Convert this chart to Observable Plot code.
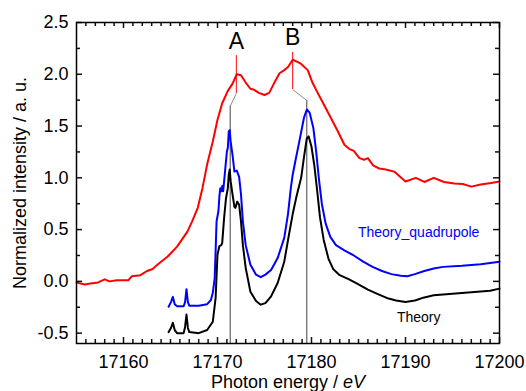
<!DOCTYPE html>
<html>
<head>
<meta charset="utf-8">
<script src="https://cdn.jsdelivr.net/npm/d3@7"></script>
<script src="https://cdn.jsdelivr.net/npm/@observablehq/plot@0.6"></script>
<style>
  html, body { margin: 0; padding: 0; background: #fff; }
  #chart { width: 526px; height: 391px; }
</style>
</head>
<body>
<div id="chart"></div>
<script>
// ---- data ----
const expEnergy = [17155.0,17155.9,17156.5,17157.3,17158.0,17158.5,17159.3,17160.5,17160.9,17161.8,17162.5,17163.1,17163.6,17164.7,17165.7,17166.8,17167.3,17167.9,17168.4,17168.9,17169.5,17170.0,17170.5,17171.1,17171.6,17172.05,17172.5,17173.0,17173.5,17173.9,17174.4,17175.0,17175.5,17176.0,17176.6,17177.1,17177.5,17178.0,17178.5,17178.9,17179.6,17180.1,17180.6,17181.3,17182.05,17182.8,17183.5,17184.0,17184.5,17185.1,17185.6,17186.0,17186.55,17187.2,17187.9,17188.8,17190.0,17191.1,17192.0,17193.0,17194.1,17195.2,17196.1,17197.0,17198.0,17199.1,17200.0];
const expIntensity = [-0.01,-0.03,-0.02,-0.01,0.02,0.0,0.01,0.01,0.05,0.06,0.10,0.12,0.16,0.24,0.335,0.48,0.58,0.71,0.90,1.13,1.35,1.56,1.72,1.84,1.91,2.0,1.99,1.92,1.86,1.85,1.82,1.80,1.82,1.91,2.01,2.04,2.07,2.14,2.12,2.10,2.04,1.92,1.83,1.71,1.58,1.45,1.32,1.28,1.26,1.19,1.175,1.19,1.12,1.09,1.08,1.06,0.965,1.0,0.96,1.0,0.96,0.945,0.94,0.915,0.935,0.95,0.965];

const quadEnergy = [17164.8,17165.05,17165.25,17165.45,17165.7,17166.4,17166.55,17166.7,17166.85,17167.0,17168.0,17168.9,17169.3,17169.5,17169.7,17169.8,17169.9,17170.1,17170.2,17170.3,17170.4,17170.5,17170.6,17170.8,17171.0,17171.1,17171.2,17171.3,17171.4,17171.6,17171.8,17172.05,17172.3,17172.5,17172.7,17173.0,17173.5,17174.1,17174.6,17175.1,17175.7,17176.4,17177.1,17177.5,17177.8,17178.0,17178.3,17178.7,17179.2,17179.5,17179.8,17180.2,17180.5,17180.8,17181.1,17181.5,17182.0,17182.6,17183.5,17184.5,17185.5,17186.5,17187.5,17188.5,17189.5,17190.2,17191.0,17192.0,17193.0,17194.0,17196.0,17198.0,17200.0];
const quadIntensity = [-0.245,-0.20,-0.15,-0.22,-0.24,-0.24,-0.20,-0.075,-0.20,-0.235,-0.235,-0.22,-0.18,-0.11,0.03,0.29,0.58,0.68,0.82,0.90,0.87,0.92,0.87,1.06,1.255,1.29,1.45,1.46,1.35,1.22,1.06,1.07,1.01,0.84,0.58,0.35,0.16,0.065,0.04,0.065,0.11,0.225,0.42,0.65,0.90,1.03,1.17,1.35,1.58,1.66,1.63,1.48,1.25,0.98,0.75,0.56,0.43,0.35,0.30,0.25,0.19,0.14,0.10,0.07,0.055,0.05,0.07,0.10,0.125,0.14,0.15,0.165,0.19];

const theoEnergy = [17164.8,17165.05,17165.25,17165.45,17165.7,17166.4,17166.55,17166.7,17166.85,17167.0,17168.0,17168.9,17169.5,17169.8,17170.0,17170.2,17170.4,17170.5,17170.7,17170.9,17171.1,17171.2,17171.3,17171.4,17171.6,17171.8,17171.9,17172.1,17172.3,17172.5,17172.7,17173.0,17173.5,17174.1,17174.6,17175.1,17175.7,17176.4,17177.1,17177.6,17178.0,17178.4,17178.9,17179.2,17179.5,17179.7,17180.0,17180.3,17180.6,17180.9,17181.3,17181.8,17182.3,17183.0,17184.0,17185.0,17186.0,17187.0,17188.0,17189.0,17190.0,17191.0,17192.0,17193.0,17195.0,17197.0,17199.0,17200.0];
const theoIntensity = [-0.49,-0.45,-0.40,-0.47,-0.50,-0.50,-0.44,-0.32,-0.45,-0.49,-0.50,-0.47,-0.39,-0.16,0.26,0.34,0.35,0.37,0.61,0.80,0.90,1.03,1.08,0.965,0.84,0.72,0.71,0.77,0.74,0.58,0.35,0.13,-0.10,-0.19,-0.225,-0.21,-0.145,-0.016,0.19,0.45,0.65,0.82,1.0,1.20,1.38,1.40,1.30,1.12,0.88,0.62,0.40,0.22,0.12,0.06,0.02,-0.03,-0.08,-0.12,-0.16,-0.185,-0.20,-0.185,-0.155,-0.135,-0.12,-0.105,-0.09,-0.07];

// peak markers A and B
const markLabels = ["A", "B"];
const markRedX = [17172.0, 17178.0];
const markRedTop = [2.18, 2.21];
const markRedBottom = [1.815, 1.853];
const markTheoX = [17171.35, 17179.5];
const markTheoTop = [1.69, 1.747];
const markLabelY = [2.32, 2.35];

const seriesNames = ["Theory_quadrupole", "Theory"];
const seriesLabelX = [17191.4, 17191.4];
const seriesLabelY = [0.47, -0.35];
const seriesColors = ["#0000ff", "#000000"];

const xMajor = [17160, 17170, 17180, 17190, 17200];
const xMinor = d3.range(17156, 17200, 1).filter(v => !xMajor.includes(v));
const yMajor = [-0.5, 0.0, 0.5, 1.0, 1.5, 2.0, 2.5];
const yMinor = [-0.25, 0.25, 0.75, 1.25, 1.75, 2.25];

const xLabel = "Photon energy / ";
const xLabelUnit = "eV";
const yLabel = "Normalized intensity / a. u.";

// ---- build tables ----
const zip = (xs, ys) => xs.map((x, i) => ({x, y: ys[i]}));
const expData = zip(expEnergy, expIntensity);
const quadData = zip(quadEnergy, quadIntensity);
const theoData = zip(theoEnergy, theoIntensity);
const marks = markLabels.map((m, i) => ({
  label: m, rx: markRedX[i], rt: markRedTop[i], rb: markRedBottom[i],
  tx: markTheoX[i], tt: markTheoTop[i], ly: markLabelY[i]
}));
const series = seriesNames.map((n, i) => ({name: n, x: seriesLabelX[i], y: seriesLabelY[i], c: seriesColors[i]}));

const yMin = -0.6;
const W = 526, H = 391, mL = 76, mR = 27, mT = 22, mB = 48;
const innerW = W - mL - mR, innerH = H - mT - mB;
const majLen = 6, minLen = 4;
const tickStyle = {stroke: "#111", strokeWidth: 1.5};

const chart = Plot.plot({
  width: W,
  height: H,
  marginLeft: mL,
  marginRight: mR,
  marginTop: mT,
  marginBottom: mB,
  style: {fontFamily: "'Liberation Sans', Arial, sans-serif", fontSize: "18px", color: "#000", background: "#fff"},
  x: {domain: [17155, 17200], label: null},
  y: {domain: [yMin, 2.5], label: null},
  marks: [
    // dark vertical guide lines
    Plot.ruleX(marks, {x: "tx", y1: yMin, y2: "tt", stroke: "#444", strokeWidth: 1}),
    // grey connectors
    Plot.link(marks, {x1: "rx", y1: "rb", x2: "tx", y2: "tt", stroke: "#8a8a8a", strokeWidth: 1}),
    // red markers
    Plot.ruleX(marks, {x: "rx", y1: "rb", y2: "rt", stroke: "#ff0000", strokeWidth: 1}),
    Plot.line(expData, {x: "x", y: "y", stroke: "#ff0000", strokeWidth: 2}),
    Plot.line(quadData, {x: "x", y: "y", stroke: "#0000ff", strokeWidth: 2}),
    Plot.line(theoData, {x: "x", y: "y", stroke: "#000000", strokeWidth: 2}),
    Plot.text(marks, {x: "rx", y: "ly", text: "label", fontSize: 23, fill: "#000"}),
    Plot.text(series, {x: "x", y: "y", text: "name", fill: "c", fontSize: 14}),
    // inward ticks (bottom, top, left, right)
    Plot.ruleX(xMinor, {x: d => d, insetTop: innerH - minLen, ...tickStyle}),
    Plot.ruleX(xMajor, {x: d => d, insetTop: innerH - majLen, ...tickStyle}),
    Plot.ruleX(xMinor, {x: d => d, insetBottom: innerH - minLen, ...tickStyle}),
    Plot.ruleX(xMajor, {x: d => d, insetBottom: innerH - majLen, ...tickStyle}),
    Plot.ruleY(yMinor, {y: d => d, insetRight: innerW - minLen, ...tickStyle}),
    Plot.ruleY(yMajor, {y: d => d, insetRight: innerW - majLen, ...tickStyle}),
    Plot.ruleY(yMinor, {y: d => d, insetLeft: innerW - minLen, ...tickStyle}),
    Plot.ruleY(yMajor, {y: d => d, insetLeft: innerW - majLen, ...tickStyle}),
    Plot.frame({stroke: "#000", strokeWidth: 1.5}),
    // tick labels
    Plot.axisX(xMajor, {anchor: "bottom", tickSize: 0, tickPadding: 12, tickFormat: d => String(d), label: null, fontSize: 18}),
    Plot.axisY(yMajor, {anchor: "left", tickSize: 0, tickPadding: 8, tickFormat: d => d.toFixed(1), label: null, fontSize: 18}),
    // axis titles
    Plot.text([xLabel], {frameAnchor: "bottom", textAnchor: "end", lineAnchor: "middle", dx: 55, dy: 38.5, fontSize: 18, fill: "#000"}),
    Plot.text([xLabelUnit], {frameAnchor: "bottom", textAnchor: "start", lineAnchor: "middle", dx: 55, dy: 38.5, fontSize: 18, fontStyle: "italic", fill: "#000"}),
    Plot.text([yLabel], {frameAnchor: "left", textAnchor: "middle", lineAnchor: "middle", rotate: -90, dx: -56, fontSize: 18, fill: "#000"})
  ]
});
document.getElementById("chart").appendChild(chart);
</script>
</body>
</html>
